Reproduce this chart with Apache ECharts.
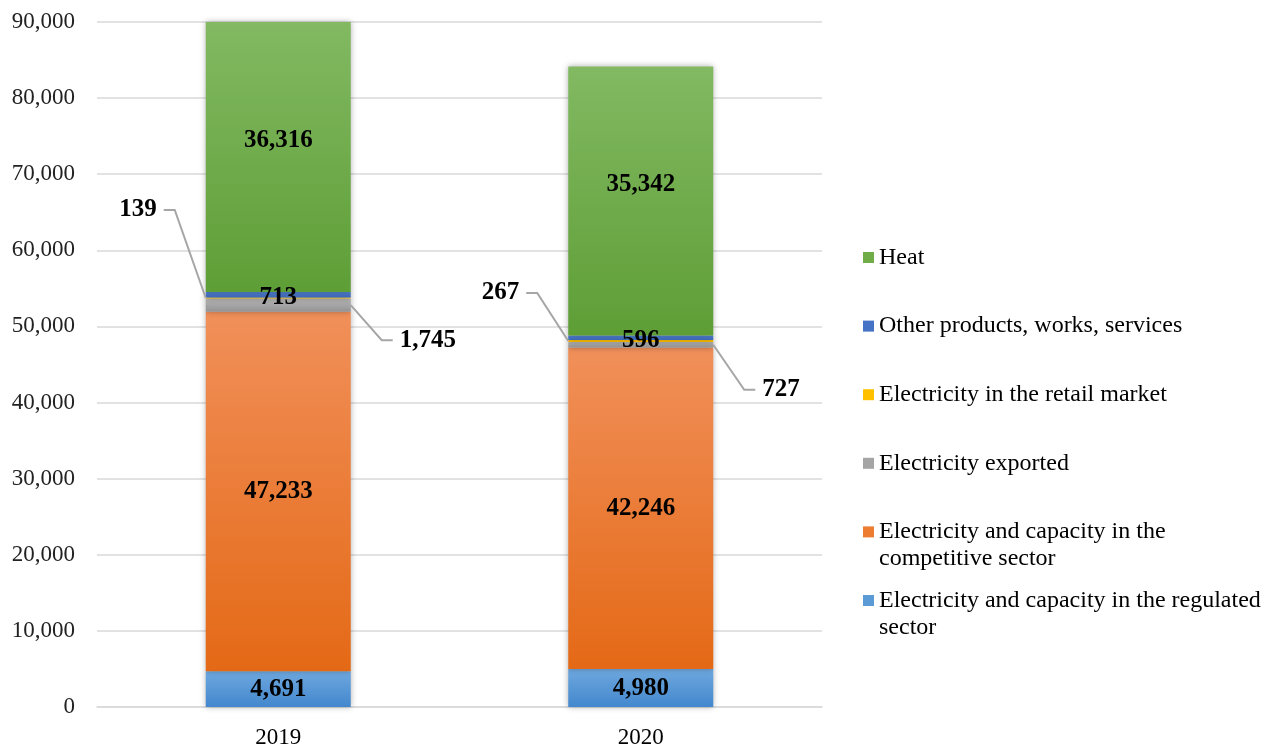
<!DOCTYPE html>
<html>
<head>
<meta charset="utf-8">
<script src="https://cdn.jsdelivr.net/npm/echarts@6/dist/echarts.min.js"></script>
<style>
  html, body { margin: 0; padding: 0; background: #ffffff; }
  #chart { width: 1265px; height: 745px; }
</style>
</head>
<body>
<div id="chart"></div>
<script>
// Revenue structure by year
const years = ['2019', '2020'];
const regulated = [4691, 4980];
const competitive = [47233, 42246];
const exported = [1745, 727];
const retail = [139, 267];
const other = [713, 596];
const heat = [36316, 35342];

const yMin = 0;
const yMax = 90000;
const yStep = 10000;

const SERIF = '"Liberation Serif", "Times New Roman", serif';
const fmt = v => v.toLocaleString('en-US');

function grad(top, bottom) {
  return new echarts.graphic.LinearGradient(0, 0, 0, 1, [
    { offset: 0, color: top },
    { offset: 1, color: bottom }
  ]);
}

const labelFont = { fontFamily: SERIF, fontSize: 25, fontWeight: 'bold', color: '#000' };

// Stack order from the axis upwards
const stackDefs = [
  { name: 'Electricity and capacity in the regulated sector', data: regulated, flat: '#5B9BD5',
    color: grad('#6EA8DF', '#4387CD'), label: { show: true, position: 'inside' } },
  { name: 'Electricity and capacity in the competitive sector', data: competitive, flat: '#ED7D31',
    color: grad('#F1905A', '#E46916'), label: { show: true, position: 'inside' } },
  { name: 'Electricity exported', data: exported, flat: '#A5A5A5',
    color: grad('#B8B8B8', '#939393'), label: { show: false } },
  { name: 'Electricity in the retail market', data: retail, flat: '#FFC000',
    color: '#FFC000', label: { show: false } },
  { name: 'Other products, works, services', data: other, flat: '#4472C4',
    color: grad('#5282D0', '#3A66B8'), label: { show: true, position: 'inside', offset: [0, 3] } },
  { name: 'Heat', data: heat, flat: '#70AD47',
    color: grad('#82B962', '#5E9E36'), label: { show: true, position: 'inside', offset: [0, -16] } }
];

const barSeries = stackDefs.map(d => ({
  name: d.name,
  type: 'bar',
  stack: 'total',
  barWidth: '40%',
  data: d.data,
  itemStyle: {
    color: d.color,
    shadowBlur: 6,
    shadowColor: 'rgba(0,0,0,0.3)'
  },
  label: Object.assign({ formatter: p => fmt(p.value) }, labelFont, d.label),
  emphasis: { disabled: true }
}));

// Callout labels with leader lines for the thin segments
const calloutLayout = [
  { series: 3, side: -1, dy: [-88, -48] },   // retail, to the left
  { series: 2, side: 1, dy: [35, 45] }        // exported, to the right
];
const calloutItems = [];
calloutLayout.forEach(c => {
  years.forEach((y, i) => {
    let base = 0;
    for (let s = 0; s < c.series; s++) base += stackDefs[s].data[i];
    calloutItems.push({ cat: i, base: base, value: stackDefs[c.series].data[i], side: c.side, dy: c.dy[i] });
  });
});

const calloutSeries = {
  type: 'custom',
  name: 'callouts',
  z: 10,
  silent: true,
  encode: { x: 0, y: 1 },
  data: calloutItems.map(c => [c.cat, c.base, c.value]),
  renderItem: function (params, api) {
    const c = calloutItems[params.dataIndex];
    const mid = api.coord([c.cat, c.base + c.value / 2]);
    const half = api.size([1, 0])[0] * 0.4 / 2;
    const s = c.side;
    const x0 = mid[0] + s * half, y0 = mid[1];
    const x1 = x0 + s * 31, y1 = y0 + c.dy;
    const x2 = x1 + s * 11;
    return {
      type: 'group',
      children: [
        { type: 'polyline', shape: { points: [[x0, y0], [x1, y1], [x2, y1]] },
          style: { stroke: '#A6A6A6', lineWidth: 2, fill: null } },
        { type: 'text',
          style: { text: fmt(c.value), x: x2 + s * 7, y: y1,
                   align: s < 0 ? 'right' : 'left', verticalAlign: 'middle',
                   font: 'bold 25px ' + SERIF, fill: '#000' } }
      ]
    };
  }
};

// Legend entries listed top to bottom, two-line names wrapped
const legendOrder = [5, 4, 3, 2, 1, 0];
const legendWrap = {
  'Electricity and capacity in the competitive sector': 'Electricity and capacity in the\ncompetitive sector',
  'Electricity and capacity in the regulated sector': 'Electricity and capacity in the regulated\nsector'
};

const chart = echarts.init(document.getElementById('chart'), null, { renderer: 'canvas' });
chart.setOption({
  backgroundColor: '#ffffff',
  animation: false,
  grid: { left: 97, right: 443, top: 22, bottom: 38, containLabel: false, outerBoundsMode: 'none' },
  xAxis: {
    type: 'category',
    data: years,
    axisLine: { show: true, lineStyle: { color: '#D9D9D9', width: 1.5 } },
    axisTick: { show: false },
    axisLabel: { fontFamily: SERIF, fontSize: 23, color: '#000', margin: 19 }
  },
  yAxis: {
    type: 'value',
    min: yMin,
    max: yMax,
    interval: yStep,
    axisLine: { show: false },
    axisTick: { show: false },
    splitLine: { lineStyle: { color: '#D9D9D9', width: 1.5 } },
    axisLabel: { fontFamily: SERIF, fontSize: 23, color: '#222', margin: 22, formatter: v => fmt(v) }
  },
  legend: {
    orient: 'vertical',
    left: 858,
    top: 212,
    itemWidth: 11,
    itemHeight: 11,
    itemGap: -12.4,
    selectedMode: false,
    icon: 'rect',
    data: legendOrder.map(i => ({ name: stackDefs[i].name, itemStyle: { color: stackDefs[i].flat } })),
    formatter: function (name) {
      const t = legendWrap[name] || name;
      return ' \n' + t + (t.indexOf('\n') < 0 ? '\n ' : '');
    },
    textStyle: { fontFamily: SERIF, fontSize: 24, color: '#000', lineHeight: 27 }
  },
  series: barSeries.concat([calloutSeries])
});
</script>
</body>
</html>
